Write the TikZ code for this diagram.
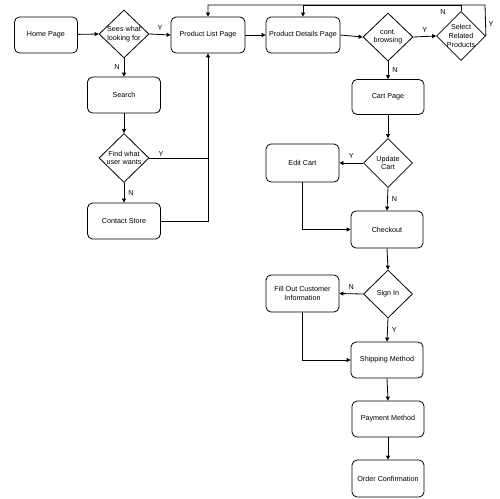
\documentclass[tikz,border=0pt]{standalone}
\usepackage{fontspec}
\setmainfont{Liberation Sans}
\usetikzlibrary{shapes.geometric,arrows.meta}
\begin{document}
\begin{tikzpicture}[x=1pt,y=-1pt,
  font=\fontsize{7.2}{8.8}\selectfont,
  every node/.style={inner sep=0pt},
  box/.style={draw, rounded corners=5pt, line width=0.8pt, minimum width=73pt, minimum height=36pt, align=center},
  dia/.style={draw, diamond, line width=0.8pt, minimum width=50pt, minimum height=48pt},
  dtext/.style={align=center},
  conn/.style={draw, line width=0.8pt, -{Triangle[length=4pt,width=4pt]}},
  line/.style={draw, line width=0.8pt},
  lab/.style={font=\fontsize{7.2}{8.8}\selectfont}
]
\useasboundingbox (0,0) rectangle (500,498);

% nodes
\node[box, minimum width=63pt] (home) at (46,35) {Home Page};
\node[dia] (d1) at (124,34) {};
\node[dtext] at (d1.center) {Sees what\\looking for};
\node[box, minimum width=74pt] (plist) at (208,35) {Product List Page};
\node[box] (search) at (124,95) {Search};
\node[dia, minimum height=49pt] (d2) at (124,158) {};
\node[dtext] at (d2.center) {Find what\\user wants};
\node[box] (contact) at (124,221) {Contact Store};
\node[box, minimum width=74pt] (pdet) at (303,35) {Product Details Page};
\node[dia] (d3) at (388,37) {};
\node[dtext] at (d3.center) {cont.\\browsing};
\node[dia, minimum width=49pt, minimum height=49pt] (d4) at (461,36) {};
\node[dtext] at (d4.center) {Select\\Related\\Products};
\node[box, minimum width=72pt, minimum height=35pt] (cart) at (388,97) {Cart Page};
\node[dia, minimum width=49pt, minimum height=49pt] (d5) at (388,163) {};
\node[dtext] at (d5.center) {Update\\Cart};
\node[box, minimum height=38pt] (edit) at (302.5,163) {Edit Cart};
\node[box, minimum width=72pt, minimum height=37pt] (checkout) at (387,229.5) {Checkout};
\node[dia, minimum width=49pt] (d6) at (388,294) {};
\node[dtext] at (d6.center) {Sign In};
\node[box, minimum height=37pt] (fill) at (302.5,293.5) {Fill Out Customer\\Information};
\node[box, minimum width=72pt] (ship) at (387,360) {Shipping Method};
\node[box, minimum width=72pt] (pay) at (388,419) {Payment Method};
\node[box, minimum width=72pt, minimum height=37pt] (order) at (388,478.5) {Order Confirmation};

\coordinate (topN) at (461,5);
\coordinate (topY) at (485,5);

% connectors
\path[conn] (home) -- (d1.west);
\path[conn] (d1.east) -- node[above=4pt, lab] {Y} (plist.west);
\path[conn] (d1.south) -- node[left=4pt, lab] {N} (search.north);
\path[conn] (search.south) -- (d2.north);
\path[line] (d2.east) -- node[above=1pt, pos=0.2, lab] {Y} (d2.east -| plist.south);
\path[conn] (d2.south) -- node[right=4pt, lab] {N} (contact.north);
\path[conn] (contact.east) -| (plist.south);
\path[conn] (plist.east) -- (pdet.west);
\path[conn] (pdet.east) -- (d3.west);
\path[conn] (d3.east) -- node[above=4pt, lab] {Y} (d4.west);
\path[conn] (d3.south) -- node[right=4pt, lab] {N} (cart.north);
\path[conn] (d4.north) -- (topN) -| (pdet.north);
\node[lab] at (443,12) {N};
\path[conn] (d4.east) -- (topY) -| (plist.north);
\node[lab] at (491,24) {Y};
\path[conn] (cart.south) -- (d5.north);
\path[conn] (d5.west) -- node[above=4pt, lab] {Y} (edit.east);
\path[conn] (d5.south) -- node[right=4pt, lab] {N} (checkout.north);
\path[conn] (edit.south) |- (checkout.west);
\path[conn] (checkout.south) -- (d6.north);
\path[conn] (d6.west) -- node[above=4pt, lab] {N} (fill.east);
\path[conn] (d6.south) -- node[right=4pt, lab] {Y} (ship.north);
\path[conn] (fill.south) |- (ship.west);
\path[conn] (ship.south) -- (pay.north);
\path[conn] (pay.south) -- (order.north);
\end{tikzpicture}
\end{document}
